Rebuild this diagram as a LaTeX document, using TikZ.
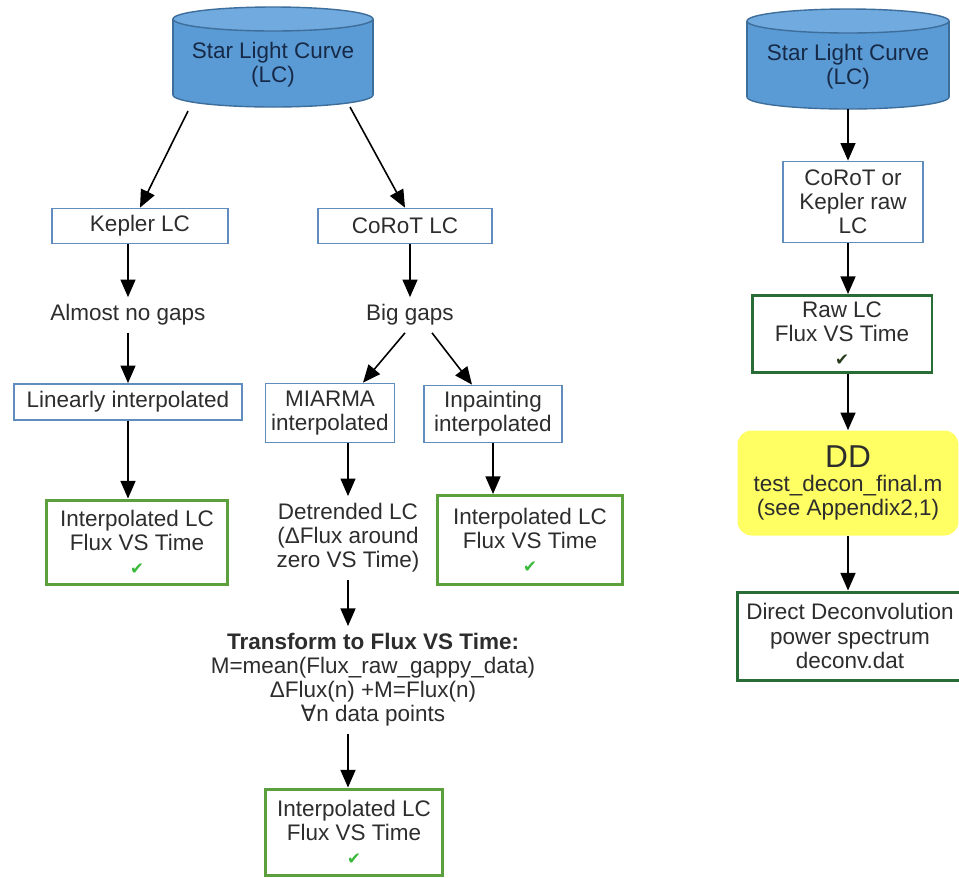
\documentclass[tikz,border=0pt]{standalone}
\usepackage{fontspec}
\setmainfont{Liberation Sans}
\newfontfamily\symfont{DejaVu Sans}
\usepackage{xcolor}
\usepackage{tikz}
\usetikzlibrary{arrows.meta,positioning,calc,backgrounds}

\definecolor{dbfill}{RGB}{91,155,213}
\definecolor{dbtop}{RGB}{112,170,222}
\definecolor{dbline}{RGB}{62,110,155}
\definecolor{dbtext}{RGB}{22,42,72}
\definecolor{boxblue}{RGB}{96,140,190}
\definecolor{okgreen}{RGB}{92,160,62}
\definecolor{darkgreen}{RGB}{40,108,54}
\definecolor{tickgreen}{RGB}{58,185,58}
\definecolor{tickdark}{RGB}{40,60,30}
\definecolor{ddyellow}{RGB}{255,255,100}
\definecolor{txt}{RGB}{45,45,45}

\newcommand{\tick}[1]{{\symfont\fontsize{9.5}{9.5}\selectfont\color{#1}✔}}

% database drum behind a text node: #1 node name, #2 x radius
\newcommand{\dbdraw}[2]{%
  \coordinate (#1-top) at ($(#1)+(0,-46)$);
  \coordinate (#1-bot) at ($(#1)+(0,30)$);
  \coordinate (#1-base) at ($(#1)+(0,42)$);
  \path[dbend, fill=dbfill] (#1-bot) ellipse [x radius=#2, y radius=12];
  \fill[dbfill] ($(#1-top)+(-#2,0)$) rectangle ($(#1-bot)+(#2,0)$);
  \draw[dbend] ($(#1-top)+(-#2,0)$) -- ($(#1-bot)+(-#2,0)$)
               ($(#1-top)+(#2,0)$) -- ($(#1-bot)+(#2,0)$);
  \path[dbend, fill=dbtop] (#1-top) ellipse [x radius=#2, y radius=12];
}

\tikzset{
  every node/.style={font=\fontsize{12.8}{13.7}\selectfont, text=txt, align=center},
  dbase/.style={text=dbtext},
  dbend/.style={draw=dbline, line width=0.8pt},
  bluebox/.style={draw=boxblue, line width=1pt, inner sep=3pt},
  donebox/.style={draw=okgreen, line width=1.7pt},
  rawbox/.style={draw=darkgreen, line width=1.7pt},
  ddbox/.style={fill=ddyellow, rounded corners=8pt},
  plain/.style={inner sep=4pt},
  flow/.style={-{Triangle[length=10pt,width=8.5pt]}, line width=0.9pt, black}
}

\begin{document}
\begin{tikzpicture}[x=0.02cm, y=-0.02cm]
    \path[clip] (0,0) rectangle (959,877);

    % Kepler / CoRoT branch
    \node[dbase] (lcA) at (273,65) {Star Light Curve\\(LC)};
    \node[bluebox, minimum width=3.52cm, minimum height=0.7cm] (kepler) at (140,226) {Kepler LC};
    \node[bluebox, minimum width=3.48cm, minimum height=0.7cm] (corot) at (405,226) {CoRoT LC};
    \node[plain] (nogaps) at (128,315) {Almost no gaps};
    \node[plain] (biggaps) at (410,315) {Big gaps};
    \node[bluebox, minimum width=4.56cm, minimum height=0.72cm] (linear) at (128,402) {Linearly interpolated};
    \node[bluebox, minimum width=2.58cm, minimum height=1.18cm] (miarma) at (330,413) {MIARMA\\interpolated};
    \node[bluebox, minimum width=2.76cm, minimum height=1.14cm] (inpaint) at (493,414) {Inpainting\\interpolated};
    \node[donebox, minimum width=3.62cm, minimum height=1.68cm] (interpA) at (137,542) {Interpolated LC\\Flux VS Time\\\tick{tickgreen}};
    \node[plain] (detrend) at (348,538) {Detrended LC\\(ΔFlux around\\zero VS Time)};
    \node[donebox, minimum width=3.7cm, minimum height=1.78cm] (interpB) at (530,540) {Interpolated LC\\Flux VS Time\\\tick{tickgreen}};
    \node[plain] (transform) at (373,680) {\textbf{Transform to Flux VS Time:}\\M=mean(Flux\_raw\_gappy\_data)\\ΔFlux(n) +M=Flux(n)\\{\symfont ∀}n data points};
    \node[donebox, minimum width=3.54cm, minimum height=1.72cm] (interpC) at (354,832) {Interpolated LC\\Flux VS Time\\\tick{tickgreen}};

    % Direct deconvolution branch
    \node[dbase] (lcB) at (848,67) {Star Light Curve\\(LC)};
    \node[bluebox, minimum width=2.8cm, minimum height=1.62cm] (raw) at (853,202) {CoRoT or\\Kepler raw\\LC};
    \node[rawbox, minimum width=3.6cm, minimum height=1.54cm] (rawflux) at (842,334) {Raw LC\\Flux VS Time\\\tick{tickdark}};
    \node[ddbox, minimum width=4.42cm, minimum height=2.1cm] (dd) at (848,483) {{\fontsize{18}{20}\selectfont DD}\\test\_decon\_final.m\\(see Appendix2,1)};
    \node[rawbox, minimum width=4.5cm, minimum height=1.76cm] (deconv) at (850,636) {Direct Deconvolution\\power spectrum\\deconv.dat};

    \begin{scope}[on background layer]
        \fill[white] (0,0) rectangle (959,877);
        \dbdraw{lcA}{100}
        \dbdraw{lcB}{101}
    \end{scope}

    % arrows
    \draw[flow] ($(lcA-base)+(-85,4)$) -- (kepler.north);
    \draw[flow] ($(lcA-base)+(77,0)$) -- (corot.north);
    \draw[flow] (kepler.south -| nogaps) -- (nogaps);
    \draw[flow] (nogaps) -- (nogaps |- linear.north);
    \draw[flow] (linear) -- (linear |- interpA.north);
    \draw[flow] (corot.south -| biggaps) -- (biggaps);
    \draw[flow] ($(biggaps.south)+(-5,0)$) -- ($(miarma.north)+(33,0)$);
    \draw[flow] ($(biggaps.south)+(22,0)$) -- ($(inpaint.north)+(-21,0)$);
    \draw[flow] (miarma.south -| detrend) -- (detrend);
    \draw[flow] (inpaint) -- (inpaint |- interpB.north);
    \draw[flow] (detrend) -- (detrend |- transform.north);
    \draw[flow] (detrend |- transform.south) -- (detrend |- interpC.north);

    \draw[flow] (lcB-base) -- (lcB-base |- raw.north);
    \draw[flow] (raw.south -| lcB) -- (lcB |- rawflux.north);
    \draw[flow] (rawflux.south -| lcB) -- (dd);
    \draw[flow] (dd) -- (dd |- deconv.north);
\end{tikzpicture}
\end{document}
